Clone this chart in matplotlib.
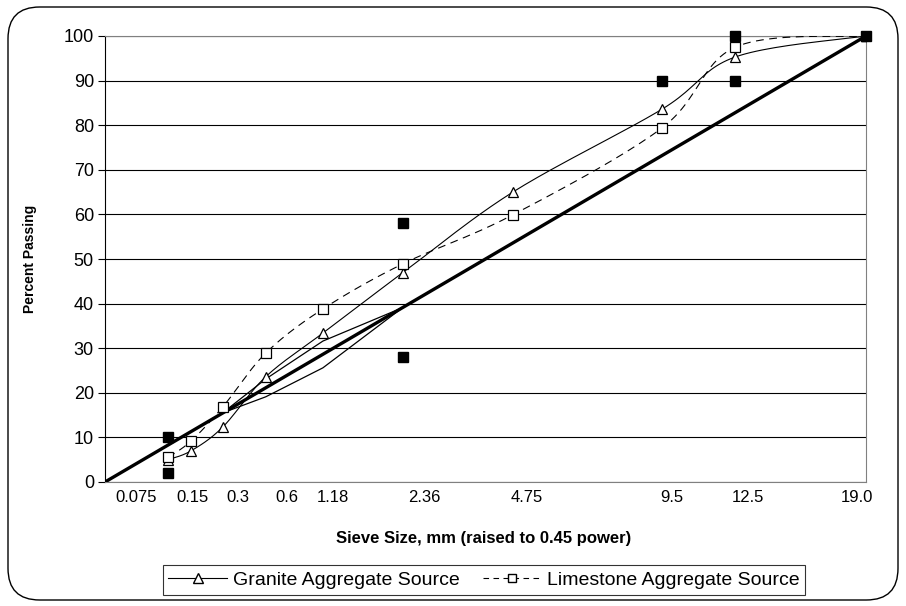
import matplotlib.pyplot as plt
import numpy as np
from matplotlib.lines import Line2D
from matplotlib.patches import FancyBboxPatch

POWER = 0.45

# sieve sizes (mm) and percent passing for each aggregate blend
SIEVES = [0.075, 0.15, 0.3, 0.6, 1.18, 2.36, 4.75, 9.5, 12.5, 19.0]
GRANITE = [5.0, 7.0, 12.3, 23.6, 33.4, 46.9, 65.0, 83.6, 95.3, 100.0]
LIMESTONE = [5.5, 9.2, 16.8, 28.9, 38.8, 48.9, 59.9, 79.4, 97.5, 100.0]

# maximum density line endpoints
MAX_DENSITY_SIEVES = [0.0, 19.0]
MAX_DENSITY_PASS = [0.0, 100.0]

# restricted zone boundaries
RZ_SIEVES = [0.3, 0.6, 1.18, 2.36]
RZ_UPPER = [15.5, 23.1, 31.6, 39.1]
RZ_LOWER = [15.5, 19.1, 25.6, 39.1]

# control points
CP_SIEVES = [0.075, 0.075, 2.36, 2.36, 9.5, 12.5, 12.5, 19.0]
CP_PASS = [2.0, 10.0, 28.0, 58.0, 90.0, 90.0, 100.0, 100.0]

TICK_LABELS = ["0.075", "0.15", "0.3", "0.6", "1.18", "2.36", "4.75", "9.5", "12.5", "19.0"]
# where each size label sits along the axis (in raised-to-power units)
TICK_LABEL_X = [0.153, 0.435, 0.657, 0.90, 1.127, 1.577, 2.086, 2.803, 3.179, 3.718]

plt.rcParams["font.family"] = ["Liberation Sans", "DejaVu Sans"]


def pw(values):
    return np.asarray(values, dtype=float) ** POWER


def smooth_curve(xs, ys, steps=24):
    # Catmull-Rom style bezier through every point, like a spreadsheet smoothed line
    pts = np.column_stack([xs, ys])
    out = [pts[0]]
    n = len(pts)
    t = np.linspace(0, 1, steps)[1:, None]
    for i in range(n - 1):
        p0 = pts[max(i - 1, 0)]
        p1 = pts[i]
        p2 = pts[i + 1]
        p3 = pts[min(i + 2, n - 1)]
        c1 = p1 + (p2 - p0) / 6.0
        c2 = p2 - (p3 - p1) / 6.0
        seg = ((1 - t) ** 3) * p1 + 3 * ((1 - t) ** 2) * t * c1 + 3 * (1 - t) * t ** 2 * c2 + t ** 3 * p2
        out.extend(seg)
    out = np.array(out)
    return out[:, 0], out[:, 1]


W, H = 906, 606
fig = plt.figure(figsize=(W / 100, H / 100), dpi=100)
ax = fig.add_axes([105 / W, 1 - 482 / H, (866 - 105) / W, (482 - 36) / H])

border = FancyBboxPatch((8 / W, 6 / H), (898 - 8) / W, (599 - 6) / H,
                        boxstyle="round,pad=0,rounding_size=0.035",
                        transform=fig.transFigure, fill=False, edgecolor="black",
                        linewidth=1.0, mutation_aspect=W / H)
fig.patches.append(border)

ax.set_xlim(0, 19.0 ** POWER)
ax.set_ylim(0, 100)
ax.set_yticks(range(0, 101, 10))
ax.yaxis.grid(True, color="black", linewidth=0.8)
ax.set_axisbelow(True)
ax.set_xticks([])
for x, lab in zip(TICK_LABEL_X, TICK_LABELS):
    ax.text(x, -3.5, lab, ha="center", va="center", fontsize=12)

ax.tick_params(axis="y", direction="out", length=5, width=0.8, labelsize=13, pad=3)
ax.spines["left"].set_color("black")
ax.spines["bottom"].set_color("#808080")
ax.spines["top"].set_color("#808080")
ax.spines["right"].set_color("#808080")

# maximum density line
ax.plot(pw(MAX_DENSITY_SIEVES), MAX_DENSITY_PASS, color="black", linewidth=2.4, zorder=3)

# restricted zone
ax.plot(pw(RZ_SIEVES), RZ_UPPER, color="black", linewidth=0.9, zorder=3)
ax.plot(pw(RZ_SIEVES), RZ_LOWER, color="black", linewidth=0.9, zorder=3)

# aggregate blends
gx, gy = smooth_curve(pw(SIEVES), GRANITE)
ax.plot(gx, gy, color="black", linewidth=0.8, zorder=4)
ax.plot(pw(SIEVES), GRANITE, linestyle="none", marker="^", markersize=7.5,
        markerfacecolor="white", markeredgecolor="black", markeredgewidth=0.9, zorder=5)

lx, ly = smooth_curve(pw(SIEVES), LIMESTONE)
ax.plot(lx, ly, color="black", linewidth=0.8, linestyle=(0, (7, 5)), zorder=4)
ax.plot(pw(SIEVES), LIMESTONE, linestyle="none", marker="s", markersize=6.5,
        markerfacecolor="white", markeredgecolor="black", markeredgewidth=0.9, zorder=5)

# control points
ax.plot(pw(CP_SIEVES), CP_PASS, linestyle="none", marker="s", markersize=6.5,
        color="black", zorder=6, clip_on=False)

ax.set_ylabel("Percent Passing", fontsize=10, fontweight="bold")
ax.yaxis.set_label_coords(-(105 - 37) / (866 - 105), 0.5)
fig.text(484 / W, 1 - 538 / H, "Sieve Size, mm (raised to 0.45 power)",
         ha="center", va="center", fontsize=12, fontweight="bold")

handles = [
    Line2D([], [], color="black", linewidth=0.8, marker="^", markersize=7,
           markerfacecolor="white", markeredgecolor="black"),
    Line2D([], [], color="black", linewidth=0.8, linestyle=(0, (5, 4)), marker="s", markersize=6,
           markerfacecolor="white", markeredgecolor="black"),
]
leg = fig.legend(handles, ["Granite Aggregate Source", "Limestone Aggregate Source"],
                 loc="center", bbox_to_anchor=(484 / W, 1 - 580 / H), ncol=2,
                 fontsize=14, frameon=True, fancybox=False, handlelength=3.0,
                 handletextpad=0.3, columnspacing=1.2, borderpad=0.3)
leg.get_frame().set_edgecolor("black")
leg.get_frame().set_linewidth(0.8)

fig.savefig("out.png", dpi=100)
